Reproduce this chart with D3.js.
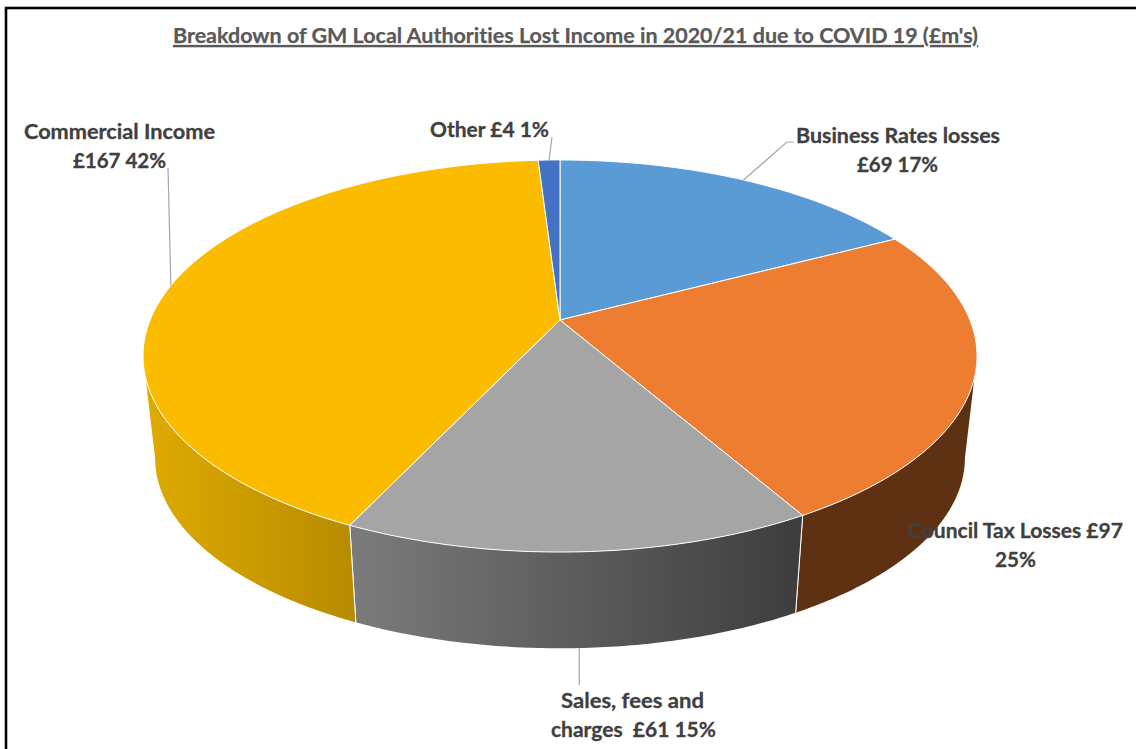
<!DOCTYPE html>
<html>
<head>
<meta charset="utf-8">
<script src="https://cdn.jsdelivr.net/npm/d3@7/dist/d3.min.js"></script>
<style>
html, body { margin: 0; padding: 0; background: #fff; overflow: hidden; }
svg { display: block; }
text { font-family: Lato, "Open Sans", sans-serif; font-weight: 700; font-variant-ligatures: none; white-space: pre; }
</style>
</head>
<body>
<svg id="chart" width="1136" height="749"></svg>
<script>
// Lost income by source, in £m
const categories = ["Business Rates losses", "Council Tax Losses", "Sales, fees and charges", "Commercial Income", "Other"];
const values = [69, 97, 61, 167, 4];
const percents = [17, 25, 15, 42, 1];

const titleText = "Breakdown of GM Local Authorities Lost Income in 2020/21 due to COVID 19 (£m's)";

// Slice faces and the shaded rim colours (left to right)
const faceColours = ["#5b9bd5", "#ed7d31", "#a5a5a5", "#fbbc00", "#4472c4"];
const rimColours = [["#35597a", "#35597a"], ["#5e3113", "#5e3113"], ["#7b7b7b", "#3d3d3d"], ["#dfab00", "#b88c00"], ["#27416f", "#27416f"]];

// Text placement: left edge, right edge and baseline of each line
const labelLayout = [
  [{ t: "Business Rates losses", x0: 796, x1: 1000, y: 143 }, { t: "£69 17%", x0: 857, x1: 938, y: 172 }],
  [{ t: "Council Tax Losses £97", x0: 908, x1: 1123, y: 538 }, { t: "25%", x0: 995, x1: 1036, y: 567 }],
  [{ t: "Sales, fees and", x0: 561, x1: 704, y: 708 }, { t: "charges  £61 15%", x0: 551, x1: 716, y: 737 }],
  [{ t: "Commercial Income", x0: 24, x1: 215, y: 139 }, { t: "£167 42%", x0: 73, x1: 166, y: 168 }],
  [{ t: "Other £4 1%", x0: 430, x1: 549, y: 137 }]
];

const svg = d3.select("#chart");
const defs = svg.append("defs");

// Perspective mapping of the disc: unit-circle angle to screen position
const cx = 560, topY = 320, bottomY = 423, shrink = 0.971;
const persp = 0.1837, ax = 409.9, ay = 189.4;
const project = (angle, level) => {
  const u = Math.sin(angle), v = Math.cos(angle), w = 1 + persp * v;
  const s = level ? shrink : 1;
  return [cx + s * ax * u / w, (level ? bottomY : topY) - s * ay * v / w];
};

const arcs = d3.pie().sort(null).value(d => d)(values);
const sweepBetween = (t0, t1, n = 90) => d3.range(n + 1).map(i => t0 + (t1 - t0) * i / n);
const line = d3.line();

// Part of the circle whose rim faces the viewer, bounded by the silhouette
const frontStart = Math.acos(-persp), frontEnd = 2 * Math.PI - frontStart;

// Outer frame, running off the right and bottom of the page
svg.append("rect").attr("x", 6).attr("y", 8).attr("width", 1200).attr("height", 800)
  .attr("fill", "#fff").attr("stroke", "#000").attr("stroke-width", 2.6);

// Rim of the disc, front-facing slices only
arcs.forEach((a, i) => {
  const t0 = Math.max(a.startAngle, frontStart), t1 = Math.min(a.endAngle, frontEnd);
  if (t1 <= t0) return;
  const angles = sweepBetween(t0, t1);
  const xs = angles.map(t => project(t, 0)[0]);
  const gradId = "rim" + i;
  const g = defs.append("linearGradient").attr("id", gradId)
    .attr("gradientUnits", "userSpaceOnUse")
    .attr("x1", d3.min(xs)).attr("x2", d3.max(xs)).attr("y1", 0).attr("y2", 0);
  g.append("stop").attr("offset", 0).attr("stop-color", rimColours[i][0]);
  g.append("stop").attr("offset", 1).attr("stop-color", rimColours[i][1]);
  const outline = angles.map(t => project(t, 0)).concat(angles.slice().reverse().map(t => project(t, 1)));
  svg.append("path").attr("d", line(outline) + "Z").attr("fill", `url(#${gradId})`);
  [a.startAngle, a.endAngle].forEach(t => {
    if (t > frontStart && t < frontEnd) {
      svg.append("path").attr("d", line([project(t, 0), project(t, 1)]))
        .attr("stroke", "#fff").attr("stroke-width", 1).attr("fill", "none");
    }
  });
});

// Top faces
arcs.forEach((a, i) => {
  const rim = sweepBetween(a.startAngle, a.endAngle).map(t => project(t, 0));
  svg.append("path").attr("d", line([[cx, topY], ...rim]) + "Z")
    .attr("fill", faceColours[i]).attr("stroke", "#fff").attr("stroke-width", 1)
    .attr("stroke-linejoin", "round");
});

// Leader lines from slice midpoints to their labels
const mid = a => (a.startAngle + a.endAngle) / 2;
const salesFoot = project(mid(arcs[2]), 1);
const leaders = [
  [project(mid(arcs[0]), 0), [787, 142], [794, 142]],
  [project(mid(arcs[3]), 0), [168, 168]],
  [project(mid(arcs[4]), 0), [552, 137]],
  [salesFoot, [salesFoot[0], 685]]
];
leaders.forEach(pts => {
  svg.append("path").attr("d", line(pts)).attr("fill", "none")
    .attr("stroke", "#a6a6a6").attr("stroke-width", 1.2);
});

// Title and data labels, fitted to their measured widths
const fitted = (sel, x0, x1) => sel.attr("x", x0).attr("textLength", x1 - x0).attr("lengthAdjust", "spacingAndGlyphs");

fitted(svg.append("text").attr("y", 43).attr("font-size", 21).attr("fill", "#595959")
  .attr("stroke", "#595959").attr("stroke-width", 0.25)
  .attr("text-decoration", "underline").text(titleText), 173, 978);

labelLayout.forEach(lines => {
  lines.forEach(l => {
    fitted(svg.append("text").attr("y", l.y).attr("font-size", 20.5).attr("fill", "#404040")
      .attr("stroke", "#404040").attr("stroke-width", 0.3).text(l.t), l.x0, l.x1);
  });
});
</script>
</body>
</html>
